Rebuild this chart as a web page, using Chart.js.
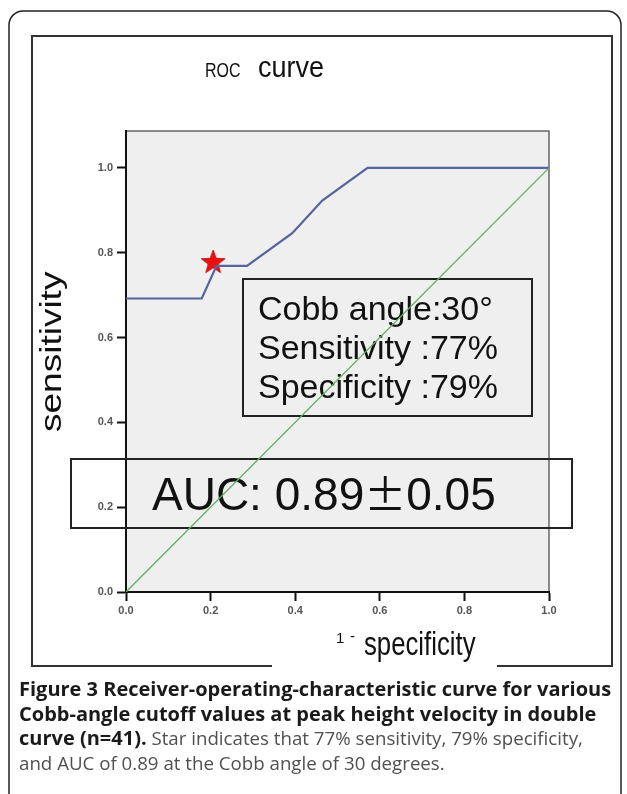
<!DOCTYPE html>
<html>
<head>
<meta charset="utf-8">
<script src="https://cdn.jsdelivr.net/npm/chart.js@4.4.1/dist/chart.umd.min.js"></script>
<style>
  body { margin: 0; background: #fff; }
  #wrap { position: relative; width: 627px; height: 794px; overflow: hidden; }
  #rocChart { position: absolute; left: 0; top: 0; }
  #caption {
    position: absolute; left: 19px; top: 677px;
    font-family: 'Open Sans', sans-serif; font-size: 18.7px; line-height: 24.5px;
    color: #505050; white-space: nowrap;
  }
  #caption b { color: #1a1a1a; font-size: 20px; }
</style>
</head>
<body>
<div id="wrap">
  <canvas id="rocChart" width="627" height="794"></canvas>
  <div id="caption">
    <b>Figure 3 Receiver-operating-characteristic curve for various</b><br>
    <b>Cobb-angle cutoff values at peak height velocity in double</b><br>
    <b>curve (n=41).</b> Star indicates that 77% sensitivity, 79% specificity,<br>
    and AUC of 0.89 at the Cobb angle of 30 degrees.
  </div>
</div>
<script>
// ROC curve points (1 - specificity, sensitivity)
const rocX = [0, 0.179, 0.214, 0.286, 0.393, 0.464, 0.571, 1.0];
const rocY = [0.692, 0.692, 0.769, 0.769, 0.846, 0.923, 1.0, 1.0];

// reference diagonal
const diagX = [0, 1];
const diagY = [0, 1];

// chosen cutoff (Cobb angle 30)
const cutoffX = [0.206];
const cutoffY = [0.778];

const tickValues = [0, 0.2, 0.4, 0.6, 0.8, 1.0];
const infoLines = ['Cobb angle:30\u00b0', 'Sensitivity :77%', 'Specificity :79%'];
const aucParts = ['AUC: 0.89', '\u00b1', '0.05'];

function toPoints(xs, ys) {
    return xs.map((x, i) => ({ x: x, y: ys[i] }));
}

// filled red star used as the point style
function makeStar() {
    const c = document.createElement('canvas');
    c.width = 26; c.height = 26;
    const g = c.getContext('2d');
    g.beginPath();
    for (let i = 0; i < 10; i++) {
        const r = i % 2 === 0 ? 12.5 : 5.2;
        const a = -Math.PI / 2 + i * Math.PI / 5;
        g.lineTo(13 + r * Math.cos(a), 13.5 + r * Math.sin(a));
    }
    g.closePath();
    g.fillStyle = '#ee1010';
    g.fill();
    g.strokeStyle = '#b00000';
    g.lineWidth = 0.8;
    g.stroke();
    return c;
}

// text squeezed sideways like the original chart export
function narrowText(ctx, text, x, y, font, sx) {
    ctx.save();
    ctx.translate(x, y);
    ctx.scale(sx, 1);
    ctx.font = font;
    ctx.fillText(text, 0, 0);
    ctx.restore();
}

// frames, plot background, boxes and titles
const decorations = {
    id: 'decorations',
    beforeDraw(chart) {
        const ctx = chart.ctx;
        const a = chart.chartArea;
        ctx.save();
        ctx.fillStyle = '#efefef';
        ctx.fillRect(a.left, a.top, a.right - a.left, a.bottom - a.top);
        ctx.strokeStyle = '#666';
        ctx.lineWidth = 1.5;
        ctx.beginPath();
        ctx.moveTo(a.left, a.top);
        ctx.lineTo(a.right, a.top);
        ctx.lineTo(a.right, a.bottom);
        ctx.stroke();

        // outer rounded frame
        ctx.strokeStyle = '#222';
        ctx.lineWidth = 1.5;
        ctx.beginPath();
        ctx.roundRect(9, 11, 612, 820, 14);
        ctx.stroke();

        // inner frame, bottom broken by the x title
        ctx.strokeStyle = '#333';
        ctx.lineWidth = 2;
        ctx.beginPath();
        ctx.moveTo(272, 666);
        ctx.lineTo(32, 666);
        ctx.lineTo(32, 36);
        ctx.lineTo(612, 36);
        ctx.lineTo(612, 666);
        ctx.lineTo(497, 666);
        ctx.stroke();

        // title
        ctx.fillStyle = '#111';
        ctx.textBaseline = 'alphabetic';
        narrowText(ctx, 'ROC', 205, 77, '20px "Liberation Sans"', 0.8);
        narrowText(ctx, 'curve', 258, 77, '30px "Liberation Sans"', 0.9);

        // axis titles
        ctx.save();
        ctx.translate(61, 432);
        ctx.rotate(-Math.PI / 2);
        ctx.scale(1, 0.82);
        ctx.font = '37px "Liberation Sans"';
        ctx.fillText('sensitivity', 0, 0);
        ctx.restore();
        ctx.font = '15px "Liberation Sans"';
        ctx.fillText('1', 336, 643);
        ctx.fillText('-', 350, 641);
        narrowText(ctx, 'specificity', 364, 655, '33px "Liberation Sans"', 0.78);
        ctx.restore();
    },
    beforeDatasetsDraw(chart) {
        const ctx = chart.ctx;
        ctx.save();
        ctx.strokeStyle = '#222';
        ctx.lineWidth = 2;
        ctx.strokeRect(243, 279, 289, 137);
        ctx.strokeRect(71, 459, 501, 69);
        ctx.fillStyle = '#111';
        ctx.font = '34px "Liberation Sans"';
        infoLines.forEach((t, i) => ctx.fillText(t, 258, 320 + i * 39));

        // AUC line, the plus-minus sign is a full-width glyph
        let x = 152;
        const fonts = ['46px "Liberation Sans"', '42px "Noto Sans CJK JP"', '46px "Liberation Sans"'];
        aucParts.forEach((t, i) => {
            ctx.font = fonts[i];
            ctx.fillText(t, x, 510);
            x += ctx.measureText(t).width;
        });
        ctx.restore();
    }
};

function createRocChart() {
    const ctx = document.getElementById('rocChart').getContext('2d');
    const tickFont = { family: 'Liberation Sans', size: 11, weight: 'bold' };
    new Chart(ctx, {
        type: 'scatter',
        data: {
            datasets: [
                {
                    data: toPoints(diagX, diagY),
                    showLine: true,
                    borderColor: '#5cb35c',
                    borderWidth: 1.3,
                    pointRadius: 0
                },
                {
                    data: toPoints(rocX, rocY),
                    showLine: true,
                    borderColor: '#55649c',
                    borderWidth: 2.2,
                    pointRadius: 0
                },
                {
                    data: toPoints(cutoffX, cutoffY),
                    pointStyle: makeStar(),
                    pointRadius: 13
                }
            ]
        },
        options: {
            responsive: false,
            animation: false,
            devicePixelRatio: 1,
            layout: { padding: { top: 131, right: 78, bottom: 0, left: 0 } },
            plugins: {
                legend: { display: false },
                tooltip: { enabled: false }
            },
            scales: {
                x: {
                    type: 'linear',
                    min: 0,
                    max: 1,
                    afterFit: s => { s.height = 202; },
                    afterBuildTicks: s => { s.ticks = tickValues.map(v => ({ value: v })); },
                    ticks: {
                        callback: v => v.toFixed(1),
                        font: tickFont,
                        color: '#555',
                        padding: 3,
                        maxRotation: 0
                    },
                    grid: { drawOnChartArea: false, tickLength: 9, tickColor: '#111', tickWidth: 2 },
                    border: { color: '#111', width: 2 }
                },
                y: {
                    type: 'linear',
                    min: 0,
                    max: 1.087,
                    afterFit: s => { s.width = 126; },
                    afterBuildTicks: s => { s.ticks = tickValues.map(v => ({ value: v })); },
                    ticks: {
                        callback: v => v.toFixed(1),
                        font: tickFont,
                        color: '#555',
                        padding: 4
                    },
                    grid: { drawOnChartArea: false, tickLength: 9, tickColor: '#111', tickWidth: 2 },
                    border: { color: '#111', width: 2 }
                }
            }
        },
        plugins: [decorations]
    });
}

createRocChart();
</script>
</body>
</html>
